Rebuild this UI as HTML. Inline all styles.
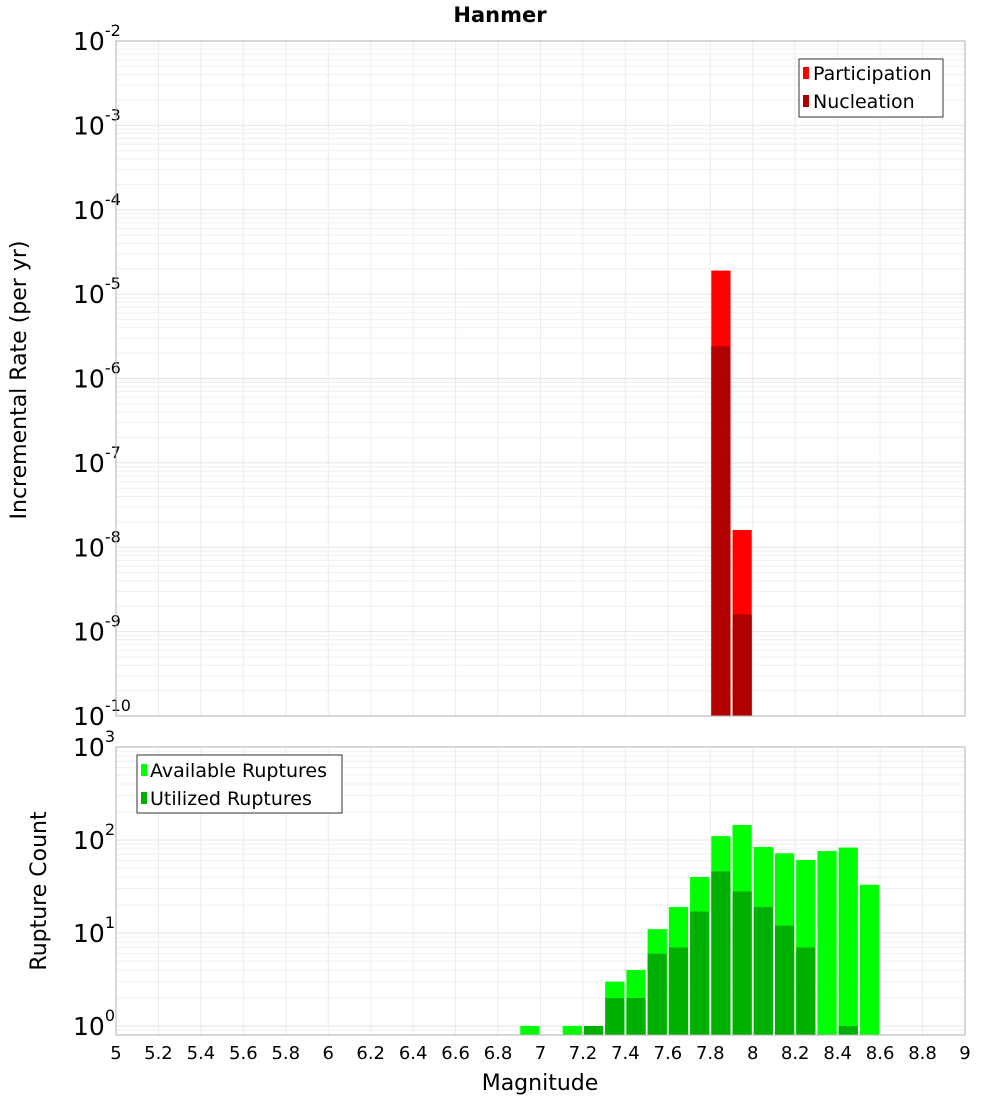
<!DOCTYPE html>
<html><head><meta charset="utf-8"><style>
body{margin:0;background:#fff;font-family:"DejaVu Sans","Liberation Sans",sans-serif;}
svg text{font-family:"DejaVu Sans","Liberation Sans",sans-serif;}
</style></head><body>
<svg id="chart" width="1000" height="1100" viewBox="0 0 1000 1100" xmlns="http://www.w3.org/2000/svg">
<rect width="1000" height="1100" fill="#fff"/>
<text x="500" y="22" text-anchor="middle" font-size="21" font-weight="bold">Hanmer</text>
<g id="topPanel"></g><g id="botPanel"></g><g id="xaxis"></g>
<text x="540" y="1090" text-anchor="middle" font-size="22">Magnitude</text>
<text transform="translate(26,380) rotate(-90)" text-anchor="middle" font-size="22">Incremental Rate (per yr)</text>
<text transform="translate(46,891) rotate(-90)" text-anchor="middle" font-size="22">Rupture Count</text>
<g>
<rect x="799" y="59" width="144" height="58" fill="#fff" stroke="#333"/>
<rect x="803" y="67" width="6" height="12" fill="#ff0000"/>
<text x="813" y="80" font-size="19">Participation</text>
<rect x="803" y="95" width="6" height="12" fill="#b00000"/>
<text x="813" y="108" font-size="19">Nucleation</text>
</g>
<g>
<rect x="137" y="755" width="205" height="58" fill="#fff" stroke="#333"/>
<rect x="141" y="764" width="6" height="12" fill="#00ff00"/>
<text x="150" y="777" font-size="19">Available Ruptures</text>
<rect x="141" y="792" width="6" height="12" fill="#00b000"/>
<text x="150" y="805" font-size="19">Utilized Ruptures</text>
</g>
</svg>
<script>
const topMags=[7.85,7.95];
const participation=[1.9e-5,1.6e-8];
const nucleation=[2.4e-6,1.6e-9];
const botMags=[6.95,7.15,7.25,7.35,7.45,7.55,7.65,7.75,7.85,7.95,8.05,8.15,8.25,8.35,8.45,8.55];
const available=[1,1,1,3,4,11,19,40,110,145,84,72,61,76,83,33];
const utilized=[0,0,1,2,2,6,7,17,46,28,19,12,7,0,1,0];
const xTicks=[5,5.2,5.4,5.6,5.8,6,6.2,6.4,6.6,6.8,7,7.2,7.4,7.6,7.8,8,8.2,8.4,8.6,8.8,9];
const topExps=[-2,-3,-4,-5,-6,-7,-8,-9,-10];
const botExps=[3,2,1,0];
const NS='http://www.w3.org/2000/svg';
const X0=116,X1=965;
const xs=m=>X0+(m-5)/4*(X1-X0);
const yTop=v=>41+(-2-Math.log10(v))*84.375;
const yBot=v=>747+(3-Math.log10(v))*93;
function mk(tag,attrs,parent,txt){const e=document.createElementNS(NS,tag);for(const k in attrs)e.setAttribute(k,attrs[k]);if(txt!==undefined)e.textContent=txt;parent.appendChild(e);return e;}
function panel(g,yt,yb,yf,exps,name){
  mk('rect',{x:X0,y:yt,width:X1-X0,height:yb-yt,fill:'#fff'},g);
  const gl=mk('g',{},g);
  
  
  xTicks.forEach(t=>mk('line',{x1:xs(t),x2:xs(t),y1:yt,y2:yb,stroke:'#ebebeb'},gl));
  const lo=Math.min(...exps)-1,hi=Math.max(...exps);
  for(let e=lo;e<=hi;e++)for(let k=1;k<10;k++){const yy=yf(k*Math.pow(10,e));if(yy>=yt&&yy<=yb)mk('line',{x1:X0,x2:X1,y1:yy,y2:yy,stroke:k==1?'#e4e4e4':'#efefef'},gl);}
  exps.forEach(e=>{const yy=yf(Math.pow(10,e));const t=mk('text',{x:73,y:yy+9,'font-size':25},g);
    
    
    t.textContent='10';mk('tspan',{dy:-14,'font-size':16},t,String(e));});
}
const topG=document.getElementById('topPanel'),botG=document.getElementById('botPanel');
panel(topG,41,716,yTop,topExps,'top');
panel(botG,747,1035,yBot,botExps,'bottom');
const bw=xs(5.1)-X0-2;
topMags.forEach((m,i)=>{
  const r=mk('rect',{x:xs(m-0.05)+1,y:yTop(participation[i]),width:bw,height:716-yTop(participation[i]),fill:'#ff0000'},topG);
  
  
  const n=mk('rect',{x:xs(m-0.05)+1,y:yTop(nucleation[i]),width:bw,height:716-yTop(nucleation[i]),fill:'#b00000'},topG);
  
  
});
botMags.forEach((m,i)=>{
  const r=mk('rect',{x:xs(m-0.05)+1,y:yBot(available[i]),width:bw,height:1035-yBot(available[i]),fill:'#00ff00'},botG);
  
  
  if(utilized[i]>0){const n=mk('rect',{x:xs(m-0.05)+1,y:yBot(utilized[i]),width:bw,height:1035-yBot(utilized[i]),fill:'#00b000'},botG);
  
  }
});
mk('rect',{x:X0,y:41,width:X1-X0,height:675,fill:'none',stroke:'#b0b0b0'},topG);
mk('rect',{x:X0,y:747,width:X1-X0,height:288,fill:'none',stroke:'#b0b0b0'},botG);
const xa=document.getElementById('xaxis');
xTicks.forEach(t=>{const e=mk('text',{x:xs(t),y:1059,'text-anchor':'middle','font-size':18},xa,String(t));
  
  });
</script>
</body></html>
